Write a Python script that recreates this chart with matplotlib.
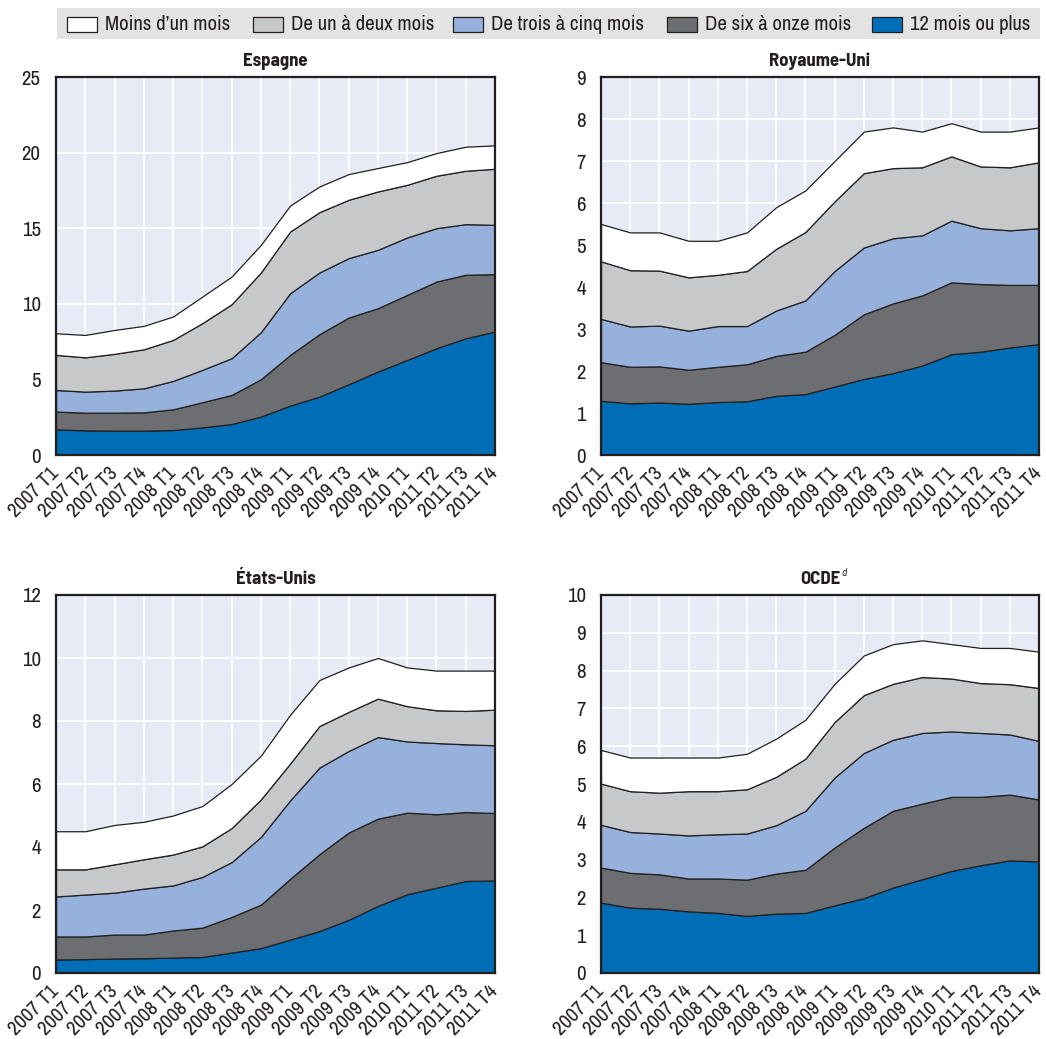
import matplotlib
matplotlib.use("Agg")
import matplotlib.pyplot as plt
from matplotlib.patches import Rectangle

REGULAR = ['Archivo Narrow', 'Liberation Sans Narrow', 'Liberation Sans', 'DejaVu Sans']
BOLD = ['Barlow Semi Condensed', 'Liberation Sans Narrow', 'Liberation Sans', 'DejaVu Sans']
plt.rcParams['font.family'] = REGULAR

quarters = ["2007 T1", "2007 T2", "2007 T3", "2007 T4", "2008 T1", "2008 T2",
            "2008 T3", "2008 T4", "2009 T1", "2009 T2", "2009 T3", "2009 T4",
            "2010 T1", "2011 T2", "2011 T3", "2011 T4"]

durations = ["Moins d\u2019un mois", "De un à deux mois", "De trois à cinq mois",
             "De six à onze mois", "12 mois ou plus"]

# Espagne (% de la population active)
esp_12plus = [1.70, 1.63, 1.61, 1.61, 1.65, 1.83, 2.05, 2.54, 3.27, 3.86, 4.68, 5.52, 6.29, 7.06, 7.72, 8.16]
esp_6_11 = [1.17, 1.17, 1.19, 1.21, 1.37, 1.66, 1.92, 2.47, 3.35, 4.13, 4.41, 4.19, 4.30, 4.41, 4.20, 3.80]
esp_3_5 = [1.43, 1.39, 1.46, 1.59, 1.88, 2.14, 2.43, 3.11, 4.08, 4.08, 3.93, 3.86, 3.80, 3.53, 3.35, 3.26]
esp_1_2 = [2.32, 2.27, 2.43, 2.58, 2.71, 3.09, 3.57, 3.95, 4.08, 3.99, 3.86, 3.86, 3.48, 3.47, 3.53, 3.71]
esp_lt1 = [1.43, 1.48, 1.58, 1.55, 1.55, 1.76, 1.83, 1.83, 1.72, 1.70, 1.70, 1.55, 1.50, 1.50, 1.59, 1.55]

# Royaume-Uni
uk_12plus = [1.29, 1.23, 1.25, 1.22, 1.26, 1.28, 1.41, 1.45, 1.63, 1.81, 1.95, 2.13, 2.40, 2.46, 2.56, 2.64]
uk_6_11 = [0.92, 0.87, 0.86, 0.81, 0.84, 0.88, 0.95, 1.01, 1.23, 1.54, 1.66, 1.67, 1.71, 1.61, 1.49, 1.41]
uk_3_5 = [1.03, 0.96, 0.97, 0.93, 0.97, 0.91, 1.08, 1.22, 1.52, 1.59, 1.55, 1.43, 1.47, 1.33, 1.30, 1.35]
uk_1_2 = [1.37, 1.34, 1.31, 1.27, 1.22, 1.31, 1.47, 1.63, 1.66, 1.77, 1.67, 1.62, 1.53, 1.47, 1.50, 1.57]
uk_lt1 = [0.89, 0.90, 0.91, 0.87, 0.81, 0.92, 0.99, 0.99, 0.96, 0.99, 0.97, 0.85, 0.79, 0.83, 0.85, 0.83]

# États-Unis
us_12plus = [0.43, 0.44, 0.46, 0.47, 0.49, 0.51, 0.65, 0.79, 1.06, 1.33, 1.69, 2.13, 2.50, 2.71, 2.92, 2.94]
us_6_11 = [0.73, 0.72, 0.76, 0.75, 0.86, 0.93, 1.13, 1.38, 1.93, 2.44, 2.77, 2.77, 2.59, 2.33, 2.19, 2.14]
us_3_5 = [1.27, 1.33, 1.33, 1.46, 1.43, 1.61, 1.74, 2.15, 2.49, 2.75, 2.59, 2.59, 2.26, 2.26, 2.15, 2.15]
us_1_2 = [0.86, 0.80, 0.90, 0.93, 0.98, 0.97, 1.08, 1.19, 1.17, 1.32, 1.24, 1.22, 1.12, 1.04, 1.06, 1.13]
us_lt1 = [1.21, 1.21, 1.25, 1.19, 1.24, 1.28, 1.40, 1.39, 1.55, 1.46, 1.41, 1.29, 1.23, 1.26, 1.28, 1.24]

# OCDE
oecd_12plus = [1.86, 1.73, 1.70, 1.63, 1.59, 1.51, 1.57, 1.59, 1.79, 1.98, 2.26, 2.48, 2.70, 2.85, 2.98, 2.95]
oecd_6_11 = [0.93, 0.92, 0.91, 0.87, 0.91, 0.96, 1.06, 1.14, 1.53, 1.86, 2.03, 2.00, 1.96, 1.81, 1.74, 1.64]
oecd_3_5 = [1.13, 1.08, 1.08, 1.14, 1.17, 1.22, 1.28, 1.56, 1.85, 1.98, 1.88, 1.87, 1.73, 1.69, 1.59, 1.55]
oecd_1_2 = [1.09, 1.08, 1.08, 1.17, 1.14, 1.17, 1.28, 1.38, 1.47, 1.53, 1.48, 1.48, 1.40, 1.32, 1.33, 1.40]
oecd_lt1 = [0.89, 0.89, 0.93, 0.89, 0.89, 0.94, 1.01, 1.03, 1.01, 1.05, 1.05, 0.97, 0.91, 0.93, 0.96, 0.96]

panels = [
    ("Espagne", None, [esp_12plus, esp_6_11, esp_3_5, esp_1_2, esp_lt1], 25, 5),
    ("Royaume-Uni", None, [uk_12plus, uk_6_11, uk_3_5, uk_1_2, uk_lt1], 9, 1),
    ("États-Unis", None, [us_12plus, us_6_11, us_3_5, us_1_2, us_lt1], 12, 2),
    ("OCDE", "d", [oecd_12plus, oecd_6_11, oecd_3_5, oecd_1_2, oecd_lt1], 10, 1),
]

# stacking order from the bottom: 12+ , 6-11, 3-5, 1-2, <1
layer_colors = ["#006EB7", "#6D6E71", "#95B1DC", "#C7C8CA", "#FFFFFF"]
legend_colors = ["#FFFFFF", "#C7C8CA", "#95B1DC", "#6D6E71", "#006EB7"]
edge = "#231F20"
txt = "#231F20"
bg = "#E6EBF6"

W, H = 1046, 1039
fig = plt.figure(figsize=(W / 100, H / 100), dpi=100)

positions = [
    (56 / W, 1 - 455 / H, 439 / W, 378 / H),
    (601 / W, 1 - 455 / H, 438 / W, 378 / H),
    (56 / W, 1 - 973 / H, 439 / W, 378 / H),
    (601 / W, 1 - 973 / H, 438 / W, 378 / H),
]

x = list(range(len(quarters)))
for (title, note, layers, ymax, step), pos in zip(panels, positions):
    ax = fig.add_axes(pos)
    ax.set_facecolor(bg)
    ax.stackplot(x, *layers, colors=layer_colors, edgecolor=edge,
                 linewidth=0.9, zorder=2)
    ax.set_xlim(0, len(quarters) - 1)
    ax.set_ylim(0, ymax)
    ax.set_yticks(range(0, ymax + 1, step))
    ax.set_xticks(x)
    ax.set_xticklabels(quarters, rotation=45, ha="right", va="center",
                       rotation_mode="anchor", fontsize=14.8, color=txt)
    ax.tick_params(axis="x", direction="in", length=5, width=1,
                   color="white", pad=11)
    ax.tick_params(axis="y", direction="in", length=0, labelsize=15,
                   labelcolor=txt, pad=11)
    for t in ax.xaxis.get_major_ticks():
        t.tick1line.set_zorder(5)
    ax.grid(True, color="white", linewidth=1.3, zorder=1)
    ax.set_axisbelow(True)
    for sp in ax.spines.values():
        sp.set_color(edge)
        sp.set_linewidth(1.6)
        sp.set_zorder(6)
    ax.set_title(title, fontsize=13.5, fontweight="bold", color=txt,
                 pad=8, family=BOLD)
    if note:
        ax.annotate(note, xy=(0.5, 1), xycoords="axes fraction",
                    xytext=(15.5, 14), textcoords="offset points",
                    fontsize=8, style="italic", color=txt, family=BOLD,
                    va="baseline", annotation_clip=False)

# legend band across the top
fig.patches.append(Rectangle((57 / W, 1 - 39 / H), 983 / W, 31 / H,
                             transform=fig.transFigure, facecolor="#E3E3E3",
                             edgecolor="none", zorder=0))
patch_x = [67, 253, 453, 667, 872]
for px, col, lab in zip(patch_x, legend_colors, durations):
    fig.patches.append(Rectangle((px / W, 1 - 32 / H), 30 / W, 15 / H,
                                 transform=fig.transFigure, facecolor=col,
                                 edgecolor=edge, linewidth=0.9, zorder=1))
    fig.text((px + 38) / W, 1 - 24.5 / H, lab, fontsize=15, color=txt,
             va="center", ha="left")

fig.savefig("out.png", dpi=100)
